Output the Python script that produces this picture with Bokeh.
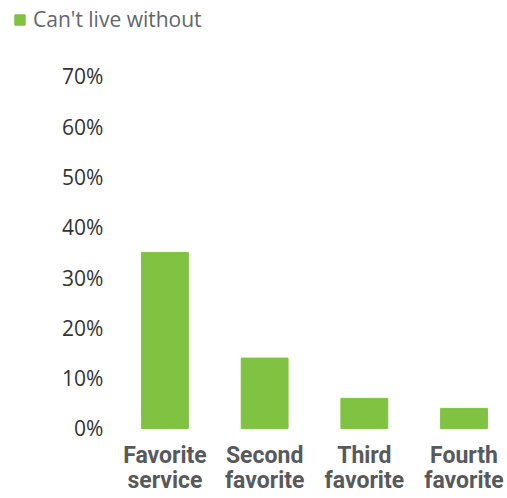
from bokeh.plotting import figure
from bokeh.models import (ColumnDataSource, FixedTicker, Legend, LegendItem, Range1d)
from bokeh.core.properties import value
from bokeh.embed import file_html
from bokeh.resources import INLINE

categories = ["Favorite\nservice", "Second\nfavorite", "Third\nfavorite", "Fourth\nfavorite"]
cant_live_without = [35, 14, 6, 4]
y_ticks = [0, 10, 20, 30, 40, 50, 60, 70]
series_name = "Can't live without"

GREEN = "#80c342"
xs = list(range(len(categories)))
src = ColumnDataSource(dict(x=xs, value=cant_live_without))
tick_src = ColumnDataSource(dict(y=y_ticks, label=["%d%%" % t for t in y_ticks],
                                 x=[-0.617] * len(y_ticks)))

p = figure(width=507, height=498, output_backend="svg", toolbar_location=None,
           x_range=Range1d(-1.650, 3.386), y_range=Range1d(-2.386, 85.09),
           y_axis_location=None,
           min_border_left=0, min_border_right=5, min_border_top=0,
           min_border_bottom=58)
p.outline_line_color = None
p.xgrid.grid_line_color = None
p.ygrid.grid_line_color = None

r = p.vbar(x="x", top="value", width=0.47, source=src, color=GREEN)

# y tick labels, placed through the y scale
p.text(x="x", y="y", text="label", source=tick_src,
       text_font=value("Open Sans"), text_font_size="21px",
       text_color="#333333", text_align="right", text_baseline="middle")

p.xaxis.ticker = FixedTicker(ticks=xs)
p.xaxis.major_label_overrides = {i: c for i, c in enumerate(categories)}
p.xaxis.axis_line_color = None
p.xaxis.major_tick_line_color = None
p.xaxis.minor_tick_line_color = None
p.xaxis.major_label_text_font = "Roboto"
p.xaxis.major_label_text_font_style = "bold"
p.xaxis.major_label_text_font_size = "23px"
p.xaxis.major_label_text_color = "#58595b"
p.xaxis.major_label_text_line_height = 0.95
p.xaxis.major_label_standoff = -5

legend = Legend(items=[LegendItem(label=series_name, renderers=[r])],
                location=(13, 407), glyph_width=13, glyph_height=13,
                label_text_font="Open Sans", label_text_font_size="21px",
                label_text_color="#63666a", label_standoff=7,
                border_line_color=None, background_fill_alpha=0,
                padding=0, margin=0)
p.add_layout(legend)

open("out.html", "w").write(file_html(p, INLINE))
